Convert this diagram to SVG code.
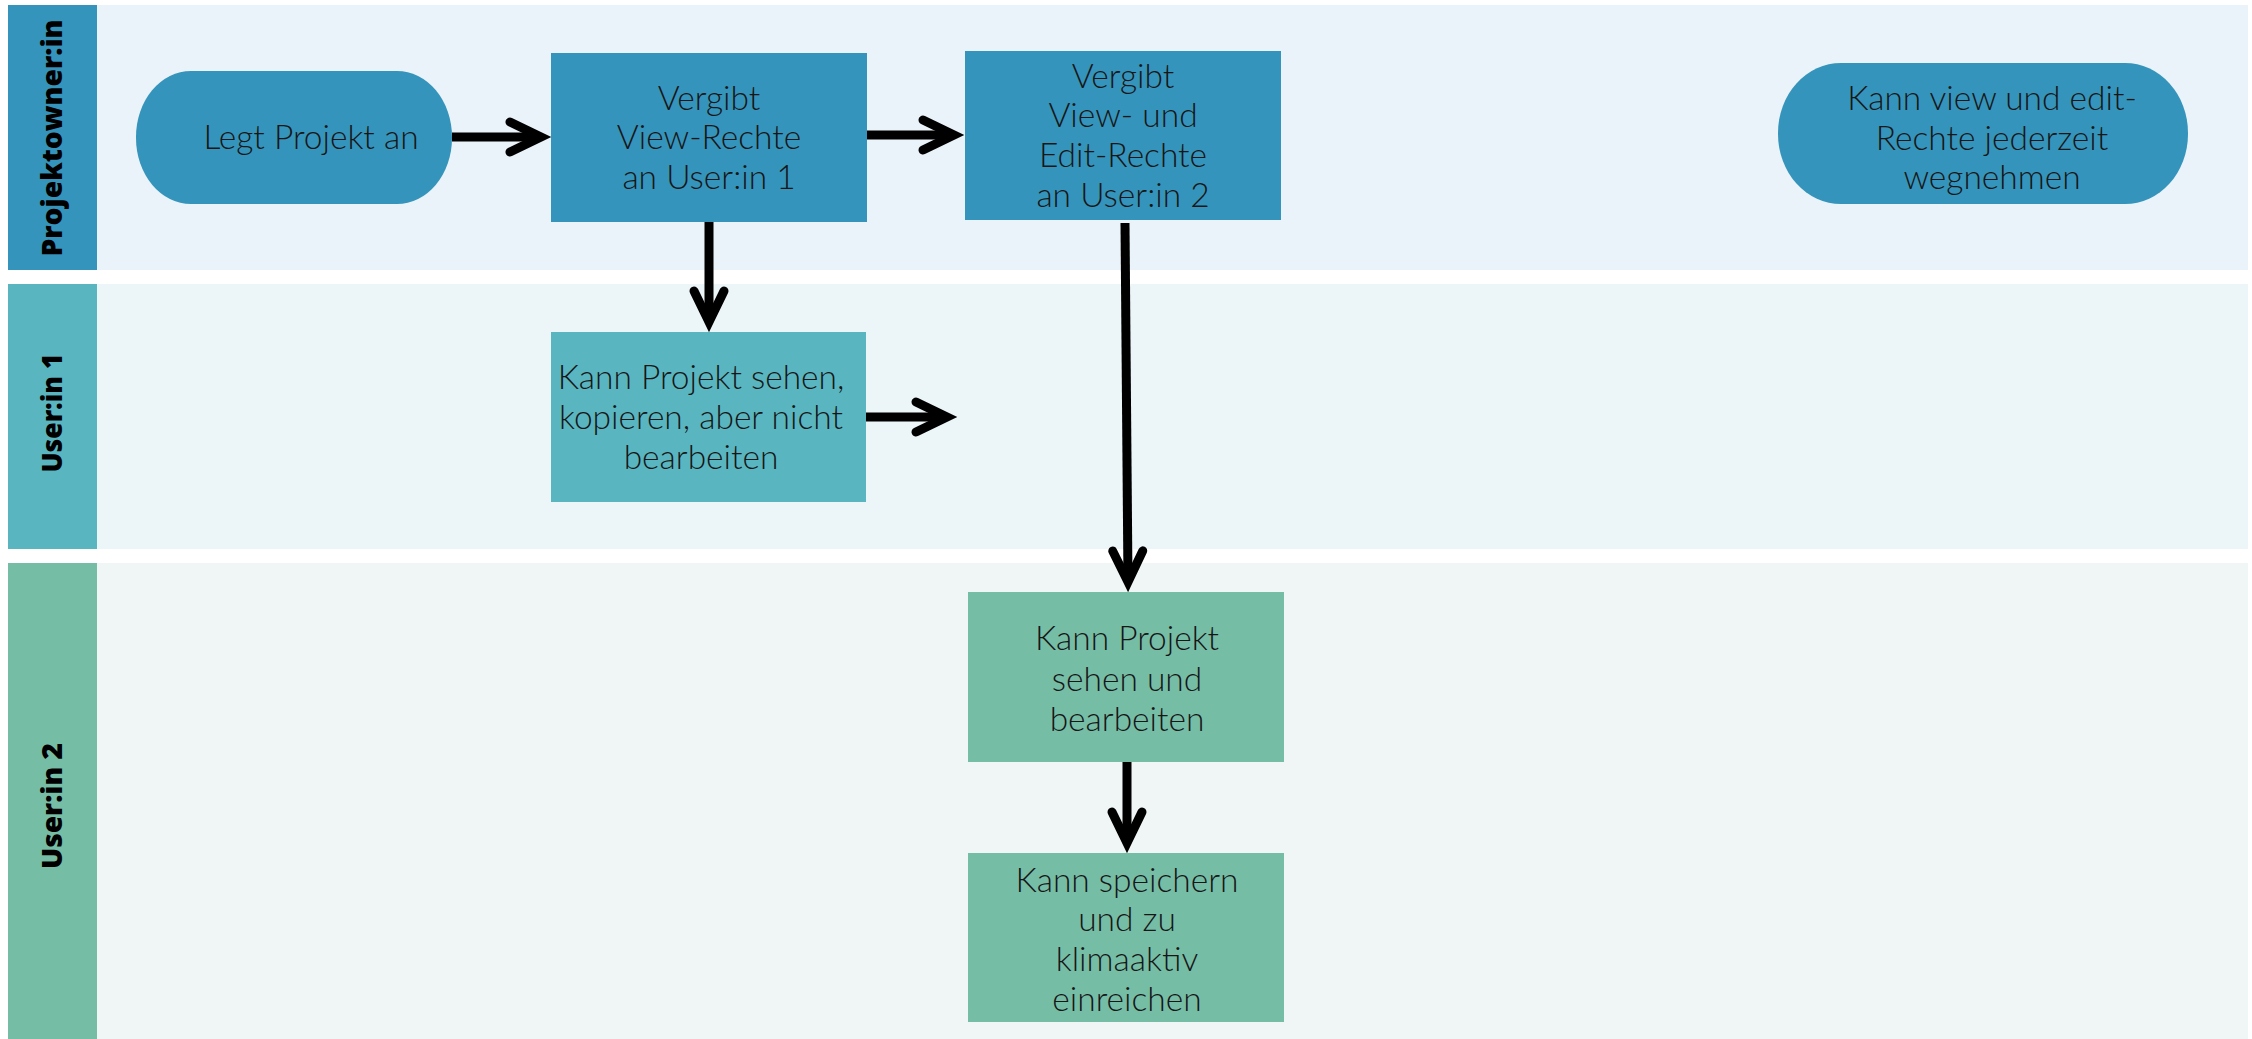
<svg xmlns="http://www.w3.org/2000/svg" width="2252" height="1039" viewBox="0 0 2252 1039">
<defs>
<style>
.t{font-family:Lato,"Open Sans","Liberation Sans",sans-serif;font-weight:300;font-size:33.5px;fill:#161616;text-anchor:middle}
.lbl{font-family:"Open Sans","Liberation Sans",sans-serif;font-weight:800;font-size:29px;fill:#000;text-anchor:middle}
.c{stroke:#000;stroke-width:9;fill:none}
.b1{fill:#3594BB}.b2{fill:#59B6C1}.b3{fill:#76BDA6}
</style>
<marker id="ah" viewBox="-45 -25 60 50" markerUnits="userSpaceOnUse" markerWidth="60" markerHeight="50" refX="0" refY="0" orient="auto" overflow="visible">
<path d="M -31 -15 L 0 0 L -31 15" fill="none" stroke="#000" stroke-width="9" stroke-linecap="round" stroke-linejoin="miter"/>
</marker>
</defs>
<rect width="2252" height="1039" fill="#fff"/>
<g id="lane1">
<rect x="97" y="5" width="2151" height="265" fill="#EAF3F9"/>
<rect x="8" y="5" width="89" height="265" class="b1"/>
<text class="lbl" transform="translate(62,138) rotate(-90)" textLength="237" lengthAdjust="spacingAndGlyphs">Projektowner:in</text>
</g>
<g id="lane2">
<rect x="97" y="284" width="2151" height="265" fill="#ECF5F7"/>
<rect x="8" y="284" width="89" height="265" class="b2"/>
<text class="lbl" transform="translate(62,413) rotate(-90)" textLength="119" lengthAdjust="spacingAndGlyphs">User:in 1</text>
</g>
<g id="lane3">
<rect x="97" y="563" width="2151" height="476" fill="#F0F6F5"/>
<rect x="8" y="563" width="89" height="476" class="b3"/>
<text class="lbl" transform="translate(62,806) rotate(-90)" textLength="126" lengthAdjust="spacingAndGlyphs">User:in 2</text>
</g>
<g id="connectors">
<path class="c" d="M452 137 L541 137" marker-end="url(#ah)"/>
<path class="c" d="M867 135 L954 135" marker-end="url(#ah)"/>
<path class="c" d="M709 222 L709 322" marker-end="url(#ah)"/>
<path class="c" d="M866 417 L947 417" marker-end="url(#ah)"/>
<path class="c" d="M1125 223 L1128 582" marker-end="url(#ah)"/>
<path class="c" d="M1127 762 L1127 843" marker-end="url(#ah)"/>
</g>
<g id="n1">
<rect x="136" y="71" width="316" height="133" rx="55" ry="66" class="b1"/>
<text class="t" x="311" y="149">Legt Projekt an</text>
</g>
<g id="n2">
<rect x="551" y="53" width="316" height="169" class="b1"/>
<text class="t" x="709" y="110">Vergibt</text>
<text class="t" x="709" y="149">View-Rechte</text>
<text class="t" x="709" y="189">an User:in 1</text>
</g>
<g id="n3">
<rect x="965" y="51" width="316" height="169" class="b1"/>
<text class="t" x="1123" y="88">Vergibt</text>
<text class="t" x="1123" y="127">View- und</text>
<text class="t" x="1123" y="167">Edit-Rechte</text>
<text class="t" x="1123" y="207">an User:in 2</text>
</g>
<g id="n4">
<rect x="1778" y="63" width="410" height="141" rx="63" ry="70" class="b1"/>
<text class="t" x="1992" y="110">Kann view und edit-</text>
<text class="t" x="1992" y="150">Rechte jederzeit</text>
<text class="t" x="1992" y="189">wegnehmen</text>
</g>
<g id="n5">
<rect x="551" y="332" width="315" height="170" class="b2"/>
<text class="t" x="701" y="389">Kann Projekt sehen,</text>
<text class="t" x="701" y="429">kopieren, aber nicht</text>
<text class="t" x="701" y="469">bearbeiten</text>
</g>
<g id="n6">
<rect x="968" y="592" width="316" height="170" class="b3"/>
<text class="t" x="1127" y="650">Kann Projekt</text>
<text class="t" x="1127" y="691">sehen und</text>
<text class="t" x="1127" y="731">bearbeiten</text>
</g>
<g id="n7">
<rect x="968" y="853" width="316" height="169" class="b3"/>
<text class="t" x="1127" y="892">Kann speichern</text>
<text class="t" x="1127" y="931">und zu</text>
<text class="t" x="1127" y="971">klimaaktiv</text>
<text class="t" x="1127" y="1011">einreichen</text>
</g>
</svg>
